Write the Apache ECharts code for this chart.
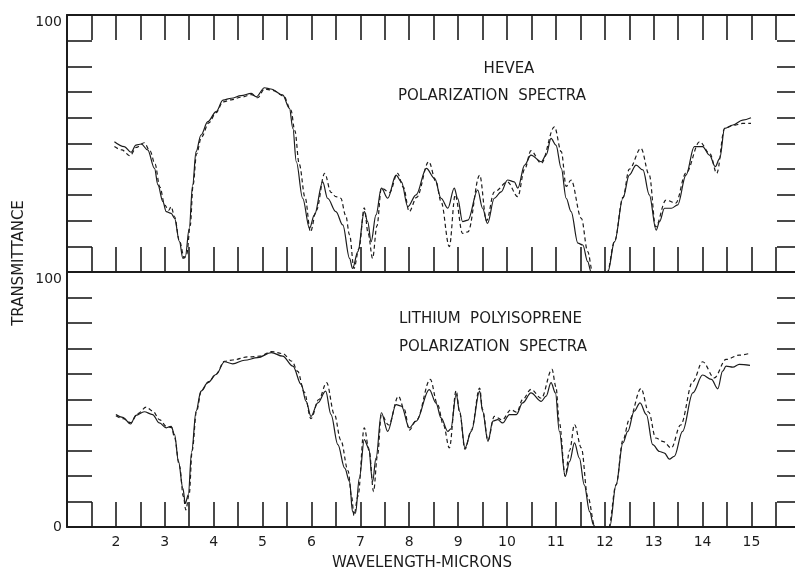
<!DOCTYPE html>
<html>
<head>
<meta charset="utf-8">
<script src="https://cdn.jsdelivr.net/npm/echarts@6/dist/echarts.min.js"></script>
<style>
html, body { margin: 0; padding: 0; background: #fff; }
#chart { width: 795px; height: 571px; }
</style>
</head>
<body>
<div id="chart"></div>
<script>
var chart = echarts.init(document.getElementById("chart"));

// wavelength (microns) / transmittance (%) pairs
var heveaSolid = [[1.97,50.7],[2.17,48.8],[2.31,46.6],[2.41,49.4],[2.52,49.8],[2.65,47.5],[2.79,40.3],[2.86,33.9],[2.96,27.4],[3.03,23.5],[3.13,22.8],[3.2,20.9],[3.3,11.8],[3.37,5.3],[3.42,6],[3.5,17],[3.57,33.9],[3.64,46.8],[3.74,53.3],[3.88,58.5],[4.05,62.4],[4.19,66.9],[4.36,67.6],[4.56,68.6],[4.77,69.5],[4.87,68.2],[5.04,71.7],[5.17,71.2],[5.41,68.9],[5.55,63.7],[5.62,55.9],[5.69,42.9],[5.82,28.7],[5.96,17],[6.06,22.2],[6.23,35.1],[6.33,28.7],[6.5,23.5],[6.64,18.3],[6.78,5.3],[6.84,1.4],[6.95,7.9],[7.08,23.5],[7.15,19.6],[7.22,11.8],[7.32,22.2],[7.43,32.6],[7.56,28.7],[7.73,37.7],[7.84,35.1],[7.97,25.4],[8.14,30],[8.35,40.3],[8.52,36.4],[8.65,28.7],[8.79,24.8],[8.92,32.6],[8.99,28.7],[9.09,19.6],[9.2,20.2],[9.4,31.9],[9.5,24.8],[9.6,18.9],[9.74,28.7],[9.88,31.2],[10.01,35.8],[10.15,35.1],[10.22,32.6],[10.36,41.6],[10.49,45.5],[10.7,42.9],[10.8,45.5],[10.9,52],[11.0,49.4],[11.11,40.3],[11.21,28.7],[11.31,23.5],[11.45,11.2],[11.55,10.5],[11.65,4],[11.72,0],[12.06,0],[12.2,11.8],[12.37,28.7],[12.5,37.7],[12.64,41.6],[12.78,39.7],[12.91,30],[13.05,16.3],[13.12,19.6],[13.22,24.8],[13.36,24.8],[13.49,26.1],[13.66,37.7],[13.83,48.8],[14.0,48.8],[14.14,45.5],[14.26,41],[14.35,44.2],[14.45,55.9],[14.62,57.2],[14.82,59.1],[14.99,60]];
var heveaDashed = [[1.97,48.8],[2.12,47.5],[2.29,45.2],[2.42,48.5],[2.58,50.3],[2.7,47],[2.8,42],[2.9,33],[3.0,26],[3.08,24],[3.13,25.4],[3.2,21.5],[3.3,12],[3.4,5.5],[3.45,7],[3.52,18],[3.58,34],[3.65,46],[3.75,52.5],[3.9,58],[4.05,62],[4.19,66.2],[4.36,67],[4.56,68],[4.77,69],[4.9,67.8],[5.04,71.2],[5.2,70.7],[5.43,68.5],[5.58,63],[5.66,55],[5.75,42],[5.87,29],[5.98,15.6],[6.1,24],[6.27,38.4],[6.4,31],[6.5,29.3],[6.6,28.7],[6.7,22],[6.78,14.4],[6.87,1.4],[6.97,9],[7.08,25],[7.16,15],[7.25,5.3],[7.34,18],[7.43,32.6],[7.6,31],[7.76,38.4],[7.88,33],[8.0,23.5],[8.15,29],[8.4,42.9],[8.55,35],[8.65,27.4],[8.82,9.9],[8.94,30],[9.09,15],[9.2,15.6],[9.44,37.7],[9.58,20],[9.74,31.2],[10.01,35],[10.22,29.3],[10.36,40],[10.49,47.2],[10.7,42.3],[10.97,56.5],[11.11,46.8],[11.21,33.3],[11.31,35.8],[11.52,20.9],[11.65,7.9],[11.75,0],[12.05,0],[12.2,12],[12.37,29],[12.5,40],[12.74,48.1],[12.91,37.7],[13.04,17.6],[13.25,28],[13.45,26.8],[13.66,38.5],[13.94,50.7],[14.15,46],[14.29,38.4],[14.45,55.9],[14.62,57],[14.82,57.8],[14.99,57.8]];
var lithiumSolid = [[2.0,44.1],[2.14,43],[2.3,40.4],[2.41,43.8],[2.58,45.2],[2.75,44.1],[2.89,40.8],[3.03,38.9],[3.13,39.5],[3.2,36.2],[3.28,25.7],[3.37,15.2],[3.42,9.3],[3.48,12.6],[3.55,29.6],[3.64,45.4],[3.74,53.3],[3.88,56.6],[4.05,59.8],[4.22,64.8],[4.39,64],[4.63,65.4],[4.9,66.4],[5.18,68.4],[5.41,67],[5.62,63.1],[5.79,55.9],[5.89,49.3],[5.99,43.4],[6.13,48.7],[6.29,53.3],[6.4,44.1],[6.54,32.3],[6.68,23.1],[6.78,17.8],[6.84,6],[6.9,5.4],[6.98,19.2],[7.08,34.3],[7.17,31],[7.25,17.8],[7.32,27],[7.43,44.8],[7.56,37.5],[7.73,48],[7.84,47.4],[8.0,38.9],[8.14,41.5],[8.41,53.9],[8.55,48.5],[8.65,42.8],[8.79,37.5],[8.85,38.5],[8.96,52],[9.03,45.4],[9.14,31],[9.27,37.5],[9.44,53.3],[9.5,45.4],[9.61,33.6],[9.71,41.5],[9.81,42.1],[9.91,40.8],[10.05,44.1],[10.19,44.1],[10.32,48.7],[10.49,52.6],[10.7,49.3],[10.8,51.3],[10.9,56.6],[10.99,52.6],[11.07,37.5],[11.19,19.8],[11.28,25.7],[11.38,33],[11.48,27],[11.58,16.5],[11.69,6],[11.77,0.8],[11.8,0],[12.1,0],[12.23,16.5],[12.37,33],[12.47,37.5],[12.6,45.4],[12.72,48.7],[12.85,44.1],[12.98,32.3],[13.12,29.6],[13.22,29],[13.32,26.6],[13.42,27.7],[13.59,37.5],[13.8,52.6],[14.0,59.6],[14.18,57.9],[14.31,54.2],[14.41,61.1],[14.48,63.1],[14.62,62.7],[14.75,63.8],[14.97,63.4]];
var lithiumDashed = [[2.0,43.6],[2.15,42.5],[2.3,40.9],[2.45,44.5],[2.62,47],[2.75,45.5],[2.9,42],[3.03,39.5],[3.14,39],[3.2,35],[3.3,24],[3.38,12],[3.43,6.7],[3.5,13],[3.56,30],[3.65,45.5],[3.75,53.5],[3.9,57],[4.05,60],[4.22,65],[4.39,65.5],[4.7,66.7],[4.95,67],[5.18,68.8],[5.41,68],[5.6,65],[5.72,61],[5.85,53],[5.99,42.5],[6.15,50],[6.31,56.6],[6.47,44.1],[6.6,34],[6.75,22],[6.82,12],[6.87,4.5],[6.95,12],[7.08,38.9],[7.18,30],[7.27,13.9],[7.35,28],[7.43,44],[7.58,40],[7.78,51.3],[7.9,46],[8.0,38],[8.15,42],[8.43,57.9],[8.58,48],[8.7,40],[8.82,31],[8.96,53.5],[9.03,45],[9.14,30.5],[9.27,38],[9.44,54.5],[9.5,46],[9.61,34],[9.74,43.4],[9.9,42],[10.08,46],[10.2,45],[10.32,50],[10.49,54],[10.7,50.5],[10.92,61.8],[11.0,55],[11.07,41],[11.19,20],[11.28,30],[11.38,40.2],[11.52,31],[11.65,12],[11.8,0],[12.08,0],[12.23,16.5],[12.37,34],[12.5,42],[12.74,54.3],[12.9,45],[13.04,34.9],[13.2,33.5],[13.36,31],[13.55,40],[13.8,57],[14.0,64.8],[14.24,58.5],[14.48,65.7],[14.75,67.4],[14.97,68.1]];

// tick marks every half micron, numbers on whole microns
var wlTicks = [1.5,2,2.5,3,3.5,4,4.5,5,5.5,6,6.5,7,7.5,8,8.5,9,9.5,10,10.5,11,11.5,12,12.5,13,13.5,14,14.5,15,15.5];
var wlLabels = [2,3,4,5,6,7,8,9,10,11,12,13,14,15];
var trTicks = [0,10,20,30,40,50,60,70,80,90,100];

var panelTitles = [["HEVEA", "POLARIZATION  SPECTRA"], ["LITHIUM  POLYISOPRENE", "POLARIZATION  SPECTRA"]];
var xTitle = "WAVELENGTH-MICRONS";
var yTitle = "TRANSMITTANCE";

var ink = '#1c1c1c';
var font = 'DejaVu Sans';
var wlMin = 1, wlMax = 15.89;

function xAxisFor(grid, pos, labels) {
    return {
        type: 'value', gridIndex: grid, position: pos,
        min: wlMin, max: wlMax,
        axisLine: { onZero: false, lineStyle: { color: ink, width: 2 } },
        axisTick: { inside: true, length: 25, customValues: wlTicks, lineStyle: { color: ink, width: 1.6 } },
        splitLine: { show: false },
        axisLabel: {
            show: labels, margin: 8, color: ink, fontSize: 14, fontFamily: font,
            customValues: wlLabels
        }
    };
}

// side: 'left' draws the frame line and inner ticks, 'right' only outer ticks,
// 'top100' only the "100" number hung just under the panel top
function yAxisFor(grid, side, shown) {
    var left = side == 'left';
    var right = side == 'right';
    return {
        type: 'value', gridIndex: grid, position: right ? 'right' : 'left',
        offset: right ? -18 : 0,
        min: 0, max: 100,
        axisLine: { show: left, onZero: false, lineStyle: { color: ink, width: 2 } },
        axisTick: { show: !(side == 'top100'), inside: left, length: left ? 25 : 18, customValues: trTicks, lineStyle: { color: ink, width: 1.6 } },
        splitLine: { show: false },
        axisLabel: {
            show: shown.length > 0, margin: 5, color: ink, fontSize: 14, fontFamily: font,
            verticalAlign: side == 'top100' ? 'top' : 'middle',
            customValues: shown
        }
    };
}

function spectrum(data, xi, yi, dashed) {
    return {
        type: 'line', xAxisIndex: xi, yAxisIndex: yi, data: data,
        showSymbol: false, smooth: 0.35, smoothMonotone: 'x',
        lineStyle: { color: ink, width: 1.2, type: dashed ? [4, 3] : 'solid' }
    };
}

function label(text, x, y, align, rot) {
    return {
        type: 'text', x: x, y: y, rotation: rot || 0,
        style: {
            text: text, fill: ink, fontSize: 15, fontFamily: font,
            align: align, verticalAlign: 'middle',
            textAlign: align, textVerticalAlign: 'middle'
        }
    };
}

var option = {
    backgroundColor: '#fff',
    animation: false,
    grid: [
        { left: 67, right: 0, top: 15, height: 257 },
        { left: 67, right: 0, top: 272, height: 255 }
    ],
    xAxis: [
        xAxisFor(0, 'bottom', false),
        xAxisFor(0, 'top', false),
        xAxisFor(1, 'bottom', true)
    ],
    yAxis: [
        yAxisFor(0, 'left', []),
        yAxisFor(0, 'right', []),
        yAxisFor(0, 'top100', [100]),
        yAxisFor(1, 'left', [0]),
        yAxisFor(1, 'right', []),
        yAxisFor(1, 'top100', [100])
    ],
    series: [
        spectrum(heveaSolid, 0, 0, false),
        spectrum(heveaDashed, 0, 0, true),
        spectrum(lithiumSolid, 2, 3, false),
        spectrum(lithiumDashed, 2, 3, true)
    ],
    graphic: [
        label(panelTitles[0][0], 509, 69, 'center'),
        label(panelTitles[0][1], 398, 96, 'left'),
        label(panelTitles[1][0], 399, 319, 'left'),
        label(panelTitles[1][1], 399, 347, 'left'),
        label(xTitle, 422, 563, 'center'),
        label(yTitle, 19, 263, 'center', Math.PI / 2)
    ]
};
chart.setOption(option);
</script>
</body>
</html>
